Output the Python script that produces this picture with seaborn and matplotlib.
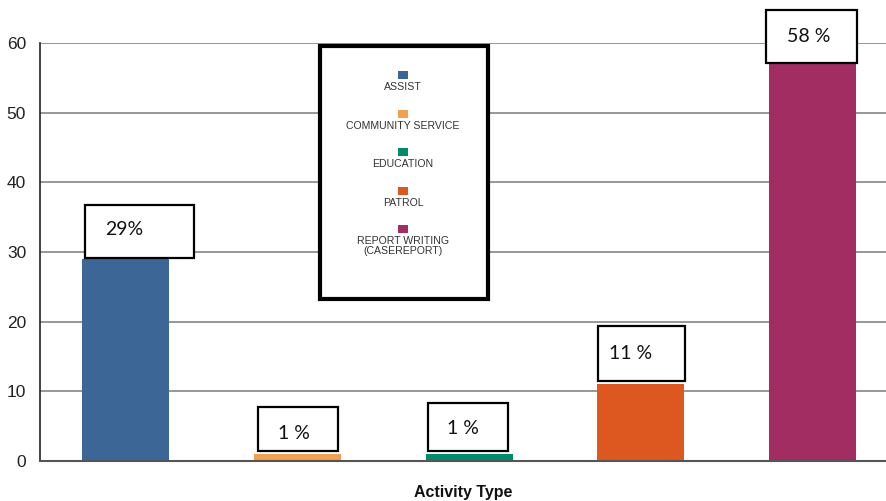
import matplotlib
matplotlib.use("Agg")
import matplotlib.pyplot as plt
import seaborn as sns
import pandas as pd
from matplotlib.patches import Rectangle

# ---- data ----
categories = ["ASSIST", "COMMUNITY SERVICE", "EDUCATION", "PATROL", "REPORT WRITING\n(CASEREPORT)"]
values = [29, 1, 1, 11, 57]
value_labels = ["29%", "1 %", "1 %", "11 %", "58 %"]
colors = ["#3B6696", "#F0A04F", "#008C6C", "#DD5820", "#A22D62"]
yticks = [0, 10, 20, 30, 40, 50, 60]
xlabel = "Activity Type"

df = pd.DataFrame({"Activity": categories, "Value": values})

sns.set_theme(style="white")
plt.rcParams["font.family"] = ["Liberation Sans", "DejaVu Sans"]

W, H = 887, 501
fig = plt.figure(figsize=(W / 100, H / 100), dpi=100)
ax = fig.add_axes([40 / W, 1 - 461 / H, (887 - 40) / W, (461 - 43) / H])

sns.barplot(data=df, x="Activity", y="Value", hue="Activity", palette=colors,
            legend=False, width=0.507, ax=ax, saturation=1, edgecolor="none")

ax.set_xlim(-0.5, 4.433)
ax.set_ylim(0, 60)
ax.set_yticks(yticks)
ax.set_yticklabels([str(t) for t in yticks], fontsize=12.5, color="#222222")
ax.set_xticks([])
ax.set_xlabel(xlabel, fontsize=11.5, fontweight="bold", color="#111111", labelpad=17)
ax.set_ylabel("")
ax.yaxis.grid(True, color="#7a7a7a", linewidth=1.1)
ax.set_axisbelow(True)
for s in ["top", "right"]:
    ax.spines[s].set_visible(False)
ax.spines["left"].set_color("#222222")
ax.spines["left"].set_linewidth(1.2)
ax.spines["bottom"].set_color("#555555")
ax.spines["bottom"].set_linewidth(1.5)
ax.tick_params(axis="y", length=0, pad=10)

# ---- value label boxes (layout in data units) ----
box_x0 = [-0.236, -0.233, -0.242, -0.253, -0.271]
box_x1 = [0.399, 0.233, 0.224, 0.259, 0.259]
box_y0 = [29.1, 1.43, 1.43, 11.48, 57.2]
box_y1 = [36.7, 7.75, 8.32, 19.37, 64.7]
txt_dx = [-0.01, -0.02, -0.035, -0.06, -0.026]
txt_y = [33.3, 4.0, 4.7, 15.5, 61.0]
for i, lab in enumerate(value_labels):
    r = Rectangle((i + box_x0[i], box_y0[i]), box_x1[i] - box_x0[i], box_y1[i] - box_y0[i],
                  facecolor="white", edgecolor="black", linewidth=1.6, clip_on=False, zorder=5)
    ax.add_patch(r)
    ax.text(i + txt_dx[i], txt_y[i], lab, ha="center", va="center", fontsize=14,
            family=["Lato", "DejaVu Sans"], color="#111111", zorder=6, clip_on=False)

# ---- custom legend (marker above label) ----
lx0, lx1, ly0, ly1 = 320, 488, 46, 299
fig.patches.append(Rectangle((lx0 / W, 1 - ly1 / H), (lx1 - lx0) / W, (ly1 - ly0) / H,
                             transform=fig.transFigure, facecolor="white",
                             edgecolor="black", linewidth=3, zorder=10))
sq_y = [75, 114, 152, 191, 229]
cx = 403
for i, cat in enumerate(categories):
    fig.patches.append(Rectangle(((cx - 5) / W, 1 - (sq_y[i] + 4) / H), 10 / W, 8 / H,
                                 transform=fig.transFigure, facecolor=colors[i],
                                 edgecolor="none", zorder=11))
    fig.text(cx / W, 1 - (sq_y[i] + 7) / H, cat, ha="center", va="top", fontsize=7.6,
             color="#333333", zorder=12, linespacing=1.05)

fig.savefig("out.png", dpi=100)
